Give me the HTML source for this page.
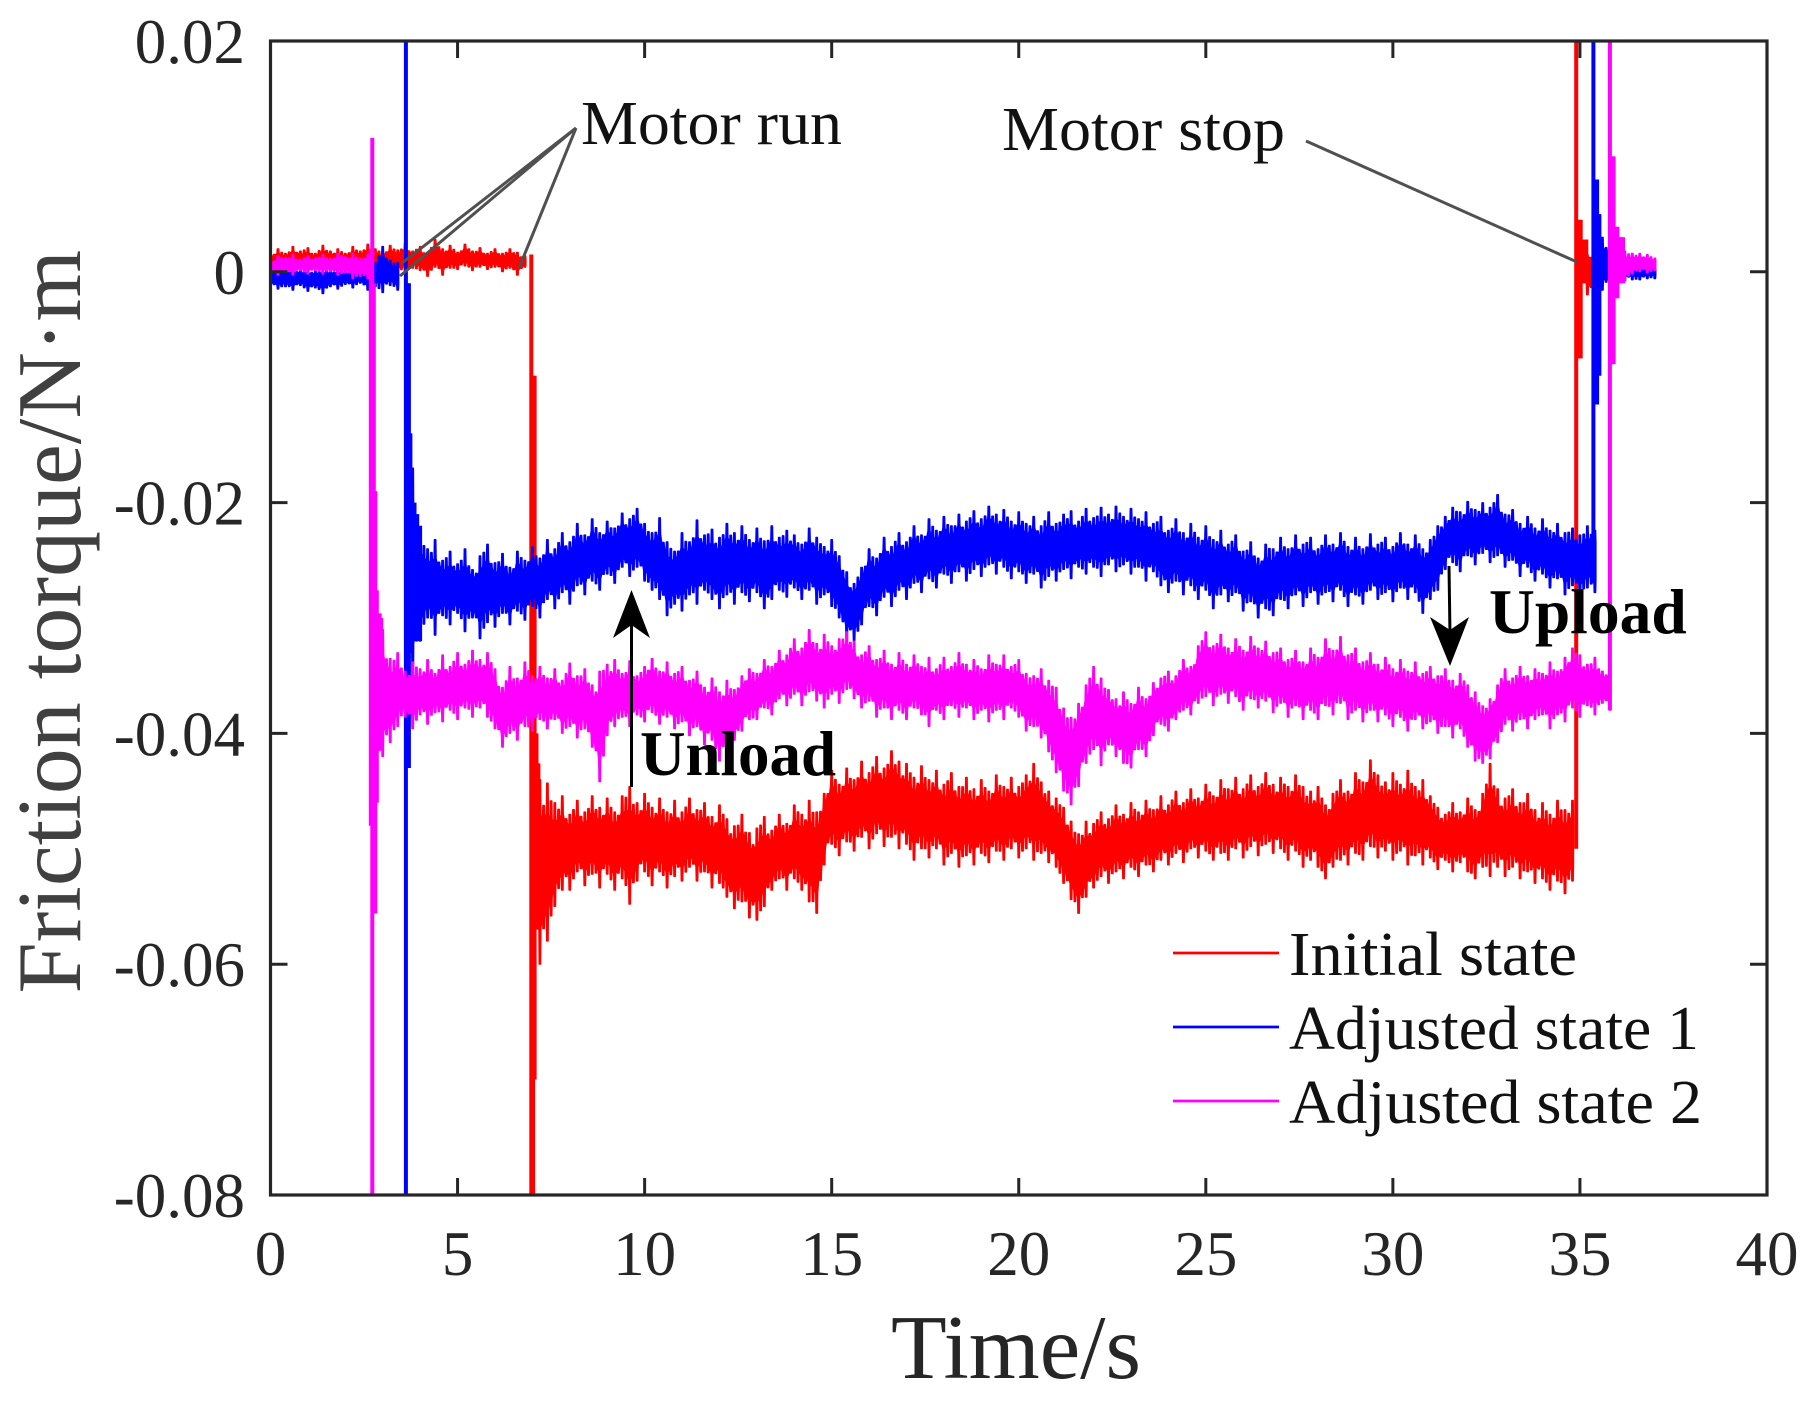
<!DOCTYPE html>
<html lang="en">
<head>
<meta charset="utf-8">
<title>Friction torque over time</title>
<style>
html,body{margin:0;padding:0;background:#fff;}
svg{display:block;font-family:"Liberation Serif",serif;}
</style>
</head>
<body>
<svg id="chart" xmlns="http://www.w3.org/2000/svg" width="1817" height="1414" viewBox="0 0 1817 1414">
  <defs>
    <clipPath id="plot-clip"><rect x="270.5" y="41" width="1496.5" height="1154"/></clipPath>
  </defs>
  <rect x="0" y="0" width="1817" height="1414" fill="#ffffff"/>
  <g id="series-layer" clip-path="url(#plot-clip)"></g>
  <g id="axis-layer"></g>
  <rect x="270.5" y="41" width="1496.5" height="1154" fill="none" stroke="#262626" stroke-width="3.2"/>

  <text transform="translate(80,993.5) rotate(-90)" font-size="91" fill="#404040" textLength="743.5" lengthAdjust="spacingAndGlyphs">Friction torque/N·m</text>
  <text x="891" y="1378" font-size="91" fill="#262626" textLength="250" lengthAdjust="spacingAndGlyphs">Time/s</text>

  <g>
    <line x1="576" y1="128" x2="519" y2="268" stroke="#505050" stroke-width="3"/>
    <line x1="576" y1="128" x2="402" y2="263" stroke="#505050" stroke-width="3"/>
    <line x1="576" y1="128" x2="400" y2="276" stroke="#505050" stroke-width="3"/>
    <text x="581" y="144" font-size="62" fill="#111111" textLength="261" lengthAdjust="spacingAndGlyphs">Motor run</text>
  </g>
  <g>
    <line x1="1306" y1="141" x2="1577" y2="262" stroke="#505050" stroke-width="3"/>
    <text x="1002" y="150" font-size="62" fill="#111111" textLength="283" lengthAdjust="spacingAndGlyphs">Motor stop</text>
  </g>

  <g>
    <line x1="631.5" y1="787" x2="631.5" y2="620" stroke="#000000" stroke-width="3"/>
    <polygon points="631.5,590 650,638 631.5,625 613,638" fill="#000000"/>
    <text x="640" y="775" font-size="63" font-weight="bold" fill="#000000">Unload</text>
  </g>
  <g>
    <line x1="1449" y1="566" x2="1450" y2="635" stroke="#000000" stroke-width="3"/>
    <polygon points="1450,666 1469,617 1450,630 1430,617" fill="#000000"/>
    <text x="1489" y="633" font-size="63.5" font-weight="bold" fill="#000000">Upload</text>
  </g>

  <g>
    <line x1="1173" y1="953" x2="1279" y2="953" stroke="#ff0000" stroke-width="2.8"/>
    <text x="1289" y="975" font-size="62" fill="#111111" textLength="288" lengthAdjust="spacingAndGlyphs">Initial state</text>
    <line x1="1173" y1="1027" x2="1279" y2="1027" stroke="#0000ff" stroke-width="2.8"/>
    <text x="1289" y="1049" font-size="62" fill="#111111" textLength="410" lengthAdjust="spacingAndGlyphs">Adjusted state 1</text>
    <line x1="1173" y1="1101" x2="1279" y2="1101" stroke="#ff00ff" stroke-width="2.8"/>
    <text x="1289" y="1123" font-size="62" fill="#111111" textLength="413" lengthAdjust="spacingAndGlyphs">Adjusted state 2</text>
  </g>
</svg>

<script>
/* Axis ticks. Torque values throughout are in units of 0.001 N·m. */
const xTickValues = [0, 5, 10, 15, 20, 25, 30, 35, 40];
const xTickLabels = ["0", "5", "10", "15", "20", "25", "30", "35", "40"];
const yTickValues = [20, 0, -20, -40, -60, -80];
const yTickLabels = ["0.02", "0", "-0.02", "-0.04", "-0.06", "-0.08"];

/* Initial state (red) */
const redPreStart = 0;
const redPreUpper = [1.5,2,1.6,2.2,1.8, 2.1,1.6,2.3,1.8,2, 1.6,2.2,1.8,2.4,2, 1.7,2.3,1.9,2.5,1.8, 2.2,1.7,2.8,2,2.3, 1.7,2.4,1.8,2.1,1.6, 2,1.6,2,1.7,1.4];
const redPreLower = [0.2,0,0.3,0,0.2, 0,0.3,0,0.2,0, 0.3,0,0.2,0,0.3, 0,0.2,0,-0.1,0.3, 0.1,-0.4,0.4,-0.3,0.3, 0.2,0.5,0.1,0.4,0.2, 0.4,0,0.3,-0.3,0.4];
const redPlateauStart = 7.2;
const redPlateauUpper = [-44,-44.3,-46,-45.4,
 -47,-45.8,-46.8,-45.4,-46.4, -45.6,-46.8,-45.4,-44.6,-46, -45.2,-46.4,-45.6,-46.8,-45.8,
 -46.8,-45.6,-46.6,-46,-47.2, -46.2,-47.4,-48,-47,-48.6, -48.2,-47.2,-48.4,-47,-47.8,
 -46.2,-47,-45.8,-46.8,-45.2, -43.2,-44.4,-43,-44,-42.4, -43.4,-42,-43,-41.5,-42.4,
 -42.6,-43.8,-42.8,-44,-43.2, -44.4,-43.4,-44.6,-43.8,-44.8, -44,-45,-43.6,-44.6,-43.8,
 -44.6,-43.6,-42.6,-44.2,-45, -45.6,-46.4,-47.6,-48.7,-47.6, -47.8,-46.8,-47.4,-46.2,-47,
 -46,-46.8,-45.8,-46.6,-45.4, -46.2,-45,-46,-44.8,-45.6, -44.4,-45.4,-44,-44.8,-43.8,
 -44.8,-43.6,-44.6,-43.4,-44.4, -43.8,-44.6,-43.6,-44.6,-45, -44.6,-46.2,-45.2,-44,-45,
 -43.4,-44.2,-42.3,-43.6,-44.2, -43.4,-44.4,-43.2,-44.6,-44, -45.4,-46.4,-47,-46,-46.8,
 -45.6,-46.6,-45.2,-42.6,-44.8, -45.6,-44.8,-46,-45.2,-46.6, -46,-47,-45.8,-46.6,-45.8];
const redPlateauLower = [-60,-58,-55,-53.6,
 -53.6,-52,-53.2,-52.2,-53.4, -52.2,-53.6,-52.6,-54.8,-52.8, -52,-53.2,-52,-53.4,-52.4,
 -52.8,-51.6,-52.8,-52,-53.4, -53,-54.2,-55.2,-54.6,-56, -56.2,-55,-53.6,-52.6,-53.6,
 -52.6,-53.6,-54.6,-55.6,-51.4, -49.6,-50.6,-49.4,-50.2,-49, -50,-48.7,-49.8,-49,-50,
 -49.6,-51,-50,-50.8,-50, -51.4,-50.4,-51.6,-50.6,-51.4, -50.4,-51.2,-50.2,-51,-50,
 -50.8,-50,-51,-50.4,-51.2, -51.6,-53,-54.4,-55.6,-54.2, -53.4,-52.4,-53,-52,-52.6,
 -51.6,-52.4,-51.4,-52,-51, -51.4,-50.4,-51.2,-50,-50.8, -50.2,-51,-50.4,-51,-50,
 -50.8,-49.8,-50.6,-49.6,-50.4, -50,-51,-50.2,-51.6,-51, -51.6,-52.6,-51.6,-51,-51.4,
 -50.4,-51,-49.8,-50.8,-50.2, -51,-50.2,-51.4,-50.6,-51.4, -50.8,-51.8,-51,-52,-51.2,
 -52,-52.6,-51.6,-52.4,-51.6, -52.4,-51.6,-52.6,-52,-53, -52.6,-53.6,-52.8,-53.9,-52.8];
const redTailStart = 35.2;
const redTailUpper = [1.5,1.2,1,1,0.9,1,1,0.9,1.1,0.9];
const redTailLower = [-2,-1.6,-1,-0.6,-0.4,-0.2,0,-0.2,0,-0.1];
const redSpikeTimes = [6.97,7.02,7.06,7.11,7.16,34.9,34.94,34.98,35.02,35.07,35.12,35.17,35.22,35.27];
const redSpikeTops = [1.5,-9,-9,-40,-42.6,20,4.5,4.5,4.5,2.8,2.8,2.8,1.3,1.3];
const redSpikeBottoms = [-80,-80,-70,-57,-56,-50,-7.5,-7.5,-7.5,-1,-1,-1,-0.5,-0.5];

/* Adjusted state 1 (blue) */
const bluePreStart = 0;
const bluePreUpper = [0.2,0.3,0.1,0.4,0.2,0.3,0.1,0.4,0.2,0.3,0.1,0.3,0.2,0.5,0.8,2.2,1,0.8];
const bluePreLower = [-1.2,-1.5,-1.3,-1.6,-1.2,-1.7,-1.4,-1.9,-1.3,-1.5,-1.1,-1.4,-1,-1.6,-1.3,-1.8,-1.2,-1.6];
const bluePlateauStart = 3.8;
const bluePlateauUpper = [-17,
 -22.5,-24,-23.2,-25,-24.2, -25.3,-24,-25.8,-24.6,-23.6, -25.2,-24.4,-25.6,-24.2,-25,
 -23.8,-24.8,-23.2,-24,-22.6, -23.4,-21.8,-22.8,-21.4,-22.6, -21.6,-22.2,-20.9,-21.4,-20.5,
 -21.8,-22.6,-21.3,-23.4,-24.2, -22.6,-23.4,-21.5,-22.8,-22.3, -23,-21.8,-22.6,-22,-23.2,
 -22.2,-23.3,-22,-23,-22.4, -22.8,-23.6,-22.2,-23,-23.8, -23.2,-24.6,-26,-27,-25.6,
 -24,-24.8,-23,-23.8,-22.6, -23.4,-22,-22.8,-21.4,-22.4, -21.2,-22,-21,-21.6,-20.7,
 -21.4,-20.3,-21,-20.6,-21.6, -20.8,-21.8,-21.2,-22,-20.8, -21.8,-21,-20.7,-21.6,-20.5,
 -21.3,-20.4,-21,-20.3,-21.2, -20.5,-21.4,-20.8,-21.8,-21.2, -22.4,-21.4,-22.6,-21.8,-23,
 -22,-23.2,-22.4,-23.6,-22.8, -24.2,-23.4,-24.8,-23.6,-24, -23,-24,-22.8,-23.6,-23,
 -24,-22.8,-23.6,-22.6,-23.8, -23,-24,-22.7,-23.6,-23, -23.8,-22.6,-23.6,-22.8,-24,
 -23.2,-22,-21.2,-20.4,-20.8, -19.9,-20.6,-20,-20.4,-19.3, -21,-20.6,-21.8,-21.2,-22.2,
 -21.4,-22.4,-21.8,-22.6,-22.2, -22.8,-22,-22.4];
const bluePlateauLower = [-36,
 -32,-30,-31.5,-29.8,-30.6, -29.6,-31.2,-30,-31.8,-30.4, -30.8,-29.6,-30.6,-29.4,-30.2,
 -29,-30,-28.4,-29.2,-27.8, -28.8,-27.2,-28,-26.8,-27.6, -26.2,-27,-25.6,-26.4,-25.6,
 -26.8,-27.6,-28.4,-29.8,-28.8, -29.4,-28,-28.8,-27.6,-28.4, -29.2,-28,-28.8,-27.8,-28.6,
 -27.8,-29.2,-28.4,-27.6,-28.2, -27.4,-28.4,-27.6,-28.8,-28, -29,-30,-31.8,-32,-30.6,
 -29,-29.8,-28.2,-29,-27.6, -28.4,-27,-27.8,-26.6,-27.4, -26.2,-27,-26,-26.8,-25.8,
 -26.4,-25.4,-26.2,-25.6,-26.6, -26,-27,-26.2,-27.4,-26.4, -26.8,-25.8,-26.6,-25.6,-26.2,
 -25.6,-26.4,-25.4,-26,-25.4, -26.2,-25.6,-26.8,-26,-27.2, -27.8,-26.8,-28,-27.2,-28.4,
 -27.6,-29.2,-28,-28.6,-27.8, -29.4,-28.6,-30,-29.2,-29.8, -28.4,-29.2,-28,-29,-27.8,
 -28.8,-27.8,-28.6,-27.6,-29, -28,-28.8,-27.6,-28.4,-27.8, -28.6,-27.4,-28.4,-27.8,-29.6,
 -28.4,-27.6,-25.8,-25.2,-26, -24.6,-25.4,-24.4,-25.2,-24.6, -25.6,-25,-26.4,-25.6,-26.8,
 -26.2,-27.4,-26.6,-28,-27.2, -28.2,-27.4,-27.8];
const blueTailStart = 35.6;
const blueTailUpper = [3,2.4,1.6,1.2,0.9,0.8,0.7,0.8];
const blueTailLower = [-1.6,-1.4,-1,-0.8,-0.7,-0.7,-0.6,-0.6];
const blueSpikeTimes = [3.62,3.66,3.7,3.74,3.78,3.85,3.92,4,35.36,35.4,35.46,35.52];
const blueSpikeTops = [20,-1,-1,-14,-18,-20,-21,-22,20,8,8,5];
const blueSpikeBottoms = [-80,-43,-43,-33,-33,-32,-32,-32,-27,-11.5,-11.5,-9];

/* Adjusted state 2 (magenta) */
const magentaPreStart = 0;
const magentaPreUpper = [0.8,1.4,1.2,1.5,1.1,1.4,1.2,1.5,1.2,1.6,1.3,1.6,1.2,1.5];
const magentaPreLower = [0.1,-0.3,0,-0.3,0.1,-0.2,0.1,-0.2,0,-0.3,-0.1,-0.6,-0.4,-0.6];
const magentaPlateauStart = 3;
const magentaPlateauUpper = [
 -31,-33.5,-33,-34.6,-33.8, -34.4,-33.6,-34.8,-33.2,-34.2, -33,-34,-32.8,-33.6,-33,
 -34.4,-36,-34.2,-35.2,-33.8, -35,-34.2,-35.2,-34.4,-35.4, -33.9,-35,-34.4,-35.8,-34.6,
 -34,-33.6,-34.8,-33.7,-35, -34.2,-33.5,-34.6,-33.8,-34.8, -34.2,-35.4,-34.6,-36,-35.2,
 -36.4,-35.4,-36.2,-35,-34.4, -34.8,-33.6,-34.2,-32.8,-33.2, -31.8,-32.6,-31,-32.2,-31.4,
 -32.4,-31.8,-31.2,-32,-33.2, -32.4,-33.6,-32.8,-34,-33, -34,-33.2,-34.2,-33.4,-34.4,
 -33.4,-34.2,-33,-34,-33.6, -34.4,-33.2,-34,-33.2,-34.2, -33.6,-34.8,-35,-34.4,-35.4,
 -36,-37.8,-38.6,-37.4,-35.8, -34.2,-35.2,-36.2,-37,-36.4, -37.4,-36,-37,-35.6,-35.2,
 -34.6,-35,-33.6,-34.2,-32.4, -31.2,-32.4,-31.4,-32.6,-31.8, -32.8,-31.6,-32.6,-32,-33,
 -32.6,-33.6,-32.8,-33.8,-32.6, -33.4,-31.8,-32.8,-31.6,-33.2, -32.6,-33.8,-33,-34,-33.4,
 -34.4,-33.6,-34.6,-33.8,-34.8, -34.2,-35,-34.4,-35.4,-34.8, -35.8,-36.4,-37.6,-37,-35.8,
 -34.4,-35.2,-34.2,-35,-34.4, -34.8,-33.8,-34.6,-33.4,-32.6, -33.2,-34,-33.4,-34.6,-34.2];
const magentaPlateauLower = [
 -42,-40.8,-39.4,-38.6,-39.6, -38.4,-39.2,-38.2,-39,-38, -38.8,-37.8,-38.6,-37.8,-38.6,
 -39.6,-41.2,-40,-40.6,-39.4, -39.8,-38.8,-39.6,-38.8,-40, -39.4,-40.4,-39.6,-41.2,-44.2,
 -40.2,-39.4,-38.6,-39.4,-38.4, -39,-38.2,-39.2,-38.6,-39.6, -39,-40.2,-39.4,-41,-40.6,
 -42.4,-41.6,-40.6,-39.8,-38.8, -38.8,-37.8,-38.4,-37,-37.6, -36.6,-37.6,-36.4,-37.2,-37.8,
 -36.6,-37.4,-36.2,-37,-37.8, -37.2,-38.6,-37.8,-38.8,-38, -38.8,-37.8,-38.4,-39.4,-38,
 -38.8,-37.6,-38.6,-37.8,-38.8, -38,-39,-38,-38.8,-37.8, -38.6,-39.8,-39.4,-40.4,-41.6,
 -43.4,-45,-46.2,-44.6,-42.6, -41.4,-42.8,-41,-42,-42.6, -43,-41.4,-42,-40.2,-39.2,
 -39.8,-38.8,-38,-38.4,-37.4, -36.8,-37.6,-36.6,-37.4,-36.8, -38,-37,-37.8,-37.2,-38.2,
 -37.4,-38.6,-37.6,-38.8,-38, -38.8,-37.6,-38.4,-37.4,-38.8, -38,-39,-38,-39,-38.4,
 -39.4,-38.6,-39.8,-38.8,-39.6, -39,-40,-39.4,-40.4,-39.6, -41.2,-42.4,-42.6,-42.2,-40.8,
 -39.2,-39.8,-38.8,-39.6,-38.8, -38.4,-39.6,-38.4,-39,-37.8, -38.6,-37.6,-38.4,-37.4,-38];
const magentaTailStart = 36;
const magentaTailUpper = [2.4,1.8,1.6,1.6,1.5,1.2];
const magentaTailLower = [-1.6,-0.8,-0.2,0,-0.1,0.1];
const magentaSpikeTimes = [2.68,2.72,2.76,2.8,2.84,2.88,2.92,2.96,35.8,35.85,35.9,35.95,36,36.05,36.1,36.15];
const magentaSpikeTops = [2,11.6,-1,-19,-27.6,-29.6,-29.6,-30,20,10,10,3.9,3.9,3,3,3];
const magentaSpikeBottoms = [-48,-80,-55.6,-55.6,-46,-41.5,-41.5,-41,-38,-8,-8,-2.3,-2.3,-1,-1,-1];

const SAMPLE_STEP = 0.2;
const SVG_NS = "http://www.w3.org/2000/svg";
const PLOT = {left: 270.5, right: 1767, top: 41, bottom: 1195};
const CORE_FRACTION = 0.3;
const MID_SPIKE_REACH = [0.3, 0.7, 0.5, 0.2, 0.85];

function xScale(t) {
  return PLOT.left + (t / 40) * (PLOT.right - PLOT.left);
}
function yScale(v) {
  return PLOT.top + ((20 - v) / 100) * (PLOT.bottom - PLOT.top);
}

const seriesLayer = document.getElementById("series-layer");
const axisLayer = document.getElementById("axis-layer");

/* One edge of a noisy trace: a solid core with narrow spikes reaching each sampled extreme. */
function edgePoints(start, edge, core) {
  const pts = [];
  const half = 0.9;
  for (let i = 0; i < edge.length; i++) {
    const x = xScale(start + i * SAMPLE_STEP);
    const coreY = yScale(core[i]);
    const tipY = yScale(edge[i]);
    pts.push([x - half - 0.3, coreY], [x - half, tipY], [x + half, tipY], [x + half + 0.3, coreY]);
    if (i < edge.length - 1) {
      const xm = xScale(start + (i + 0.5) * SAMPLE_STEP);
      const coreM = (core[i] + core[i + 1]) / 2;
      const edgeM = (edge[i] + edge[i + 1]) / 2;
      const reach = MID_SPIKE_REACH[i % MID_SPIKE_REACH.length];
      const tipM = yScale(coreM + (edgeM - coreM) * reach);
      const coreMY = yScale(coreM);
      pts.push([xm - half - 0.3, coreMY], [xm - half, tipM], [xm + half, tipM], [xm + half + 0.3, coreMY]);
    }
  }
  return pts;
}

function drawBand(parent, name, color, start, upper, lower) {
  const coreUpper = upper.map(function (u, i) {
    return (u + lower[i]) / 2 + CORE_FRACTION * (u - lower[i]);
  });
  const coreLower = upper.map(function (u, i) {
    return (u + lower[i]) / 2 - CORE_FRACTION * (u - lower[i]);
  });
  const top = edgePoints(start, upper, coreUpper);
  const bottom = edgePoints(start, lower, coreLower).reverse();
  const all = top.concat(bottom);
  let d = "";
  for (let i = 0; i < all.length; i++) {
    d += (i ? "L" : "M") + all[i][0].toFixed(1) + " " + all[i][1].toFixed(1);
  }
  const path = document.createElementNS(SVG_NS, "path");
  path.setAttribute("d", d + "Z");
  path.setAttribute("fill", color);
  path.setAttribute("stroke", color);
  path.setAttribute("stroke-width", "1");
  path.setAttribute("stroke-linejoin", "bevel");
  
  
  parent.appendChild(path);
}

function drawSpikes(parent, name, color, times, tops, bottoms) {
  for (let i = 0; i < times.length; i++) {
    const line = document.createElementNS(SVG_NS, "line");
    line.setAttribute("x1", xScale(times[i]).toFixed(1));
    line.setAttribute("x2", xScale(times[i]).toFixed(1));
    line.setAttribute("y1", yScale(tops[i]).toFixed(1));
    line.setAttribute("y2", yScale(bottoms[i]).toFixed(1));
    line.setAttribute("stroke", color);
    line.setAttribute("stroke-width", "4");
    
    
    parent.appendChild(line);
  }
}

function makeGroup(name) {
  const g = document.createElementNS(SVG_NS, "g");
  
  
  seriesLayer.appendChild(g);
  return g;
}

const redGroup = makeGroup("series-initial-state");
drawBand(redGroup, "initial-state-before-run", "#ff0000", redPreStart, redPreUpper, redPreLower);
drawBand(redGroup, "initial-state-plateau", "#ff0000", redPlateauStart, redPlateauUpper, redPlateauLower);
drawBand(redGroup, "initial-state-after-stop", "#ff0000", redTailStart, redTailUpper, redTailLower);
drawSpikes(redGroup, "initial-state-transient", "#ff0000", redSpikeTimes, redSpikeTops, redSpikeBottoms);

const blueGroup = makeGroup("series-adjusted-state-1");
drawBand(blueGroup, "adjusted-state-1-before-run", "#0000ff", bluePreStart, bluePreUpper, bluePreLower);
drawBand(blueGroup, "adjusted-state-1-plateau", "#0000ff", bluePlateauStart, bluePlateauUpper, bluePlateauLower);
drawBand(blueGroup, "adjusted-state-1-after-stop", "#0000ff", blueTailStart, blueTailUpper, blueTailLower);
drawSpikes(blueGroup, "adjusted-state-1-transient", "#0000ff", blueSpikeTimes, blueSpikeTops, blueSpikeBottoms);

const magentaGroup = makeGroup("series-adjusted-state-2");
drawBand(magentaGroup, "adjusted-state-2-before-run", "#ff00ff", magentaPreStart, magentaPreUpper, magentaPreLower);
drawBand(magentaGroup, "adjusted-state-2-plateau", "#ff00ff", magentaPlateauStart, magentaPlateauUpper, magentaPlateauLower);
drawBand(magentaGroup, "adjusted-state-2-after-stop", "#ff00ff", magentaTailStart, magentaTailUpper, magentaTailLower);
drawSpikes(magentaGroup, "adjusted-state-2-transient", "#ff00ff", magentaSpikeTimes, magentaSpikeTops, magentaSpikeBottoms);

function addTick(x1, y1, x2, y2, name) {
  const tick = document.createElementNS(SVG_NS, "line");
  tick.setAttribute("x1", x1);
  tick.setAttribute("y1", y1);
  tick.setAttribute("x2", x2);
  tick.setAttribute("y2", y2);
  tick.setAttribute("stroke", "#262626");
  tick.setAttribute("stroke-width", "3");
  
  
  axisLayer.appendChild(tick);
}

function addLabel(x, y, anchor, content, name) {
  const label = document.createElementNS(SVG_NS, "text");
  label.setAttribute("x", x);
  label.setAttribute("y", y);
  label.setAttribute("text-anchor", anchor);
  label.setAttribute("font-size", "63");
  label.setAttribute("fill", "#262626");
  label.textContent = content;
  
  
  axisLayer.appendChild(label);
}

const TICK_LEN = 17;
xTickValues.forEach(function (value, i) {
  const x = xScale(value);
  addTick(x, PLOT.bottom, x, PLOT.bottom - TICK_LEN, "x-tick-bottom");
  addTick(x, PLOT.top, x, PLOT.top + TICK_LEN, "x-tick-top");
  addLabel(x, 1275, "middle", xTickLabels[i], "x-tick-label");
});
yTickValues.forEach(function (value, i) {
  const y = yScale(value);
  addTick(PLOT.left, y, PLOT.left + TICK_LEN, y, "y-tick-left");
  addTick(PLOT.right, y, PLOT.right - TICK_LEN, y, "y-tick-right");
  addLabel(245, y + 22, "end", yTickLabels[i], "y-tick-label");
});
</script>
</body>
</html>
